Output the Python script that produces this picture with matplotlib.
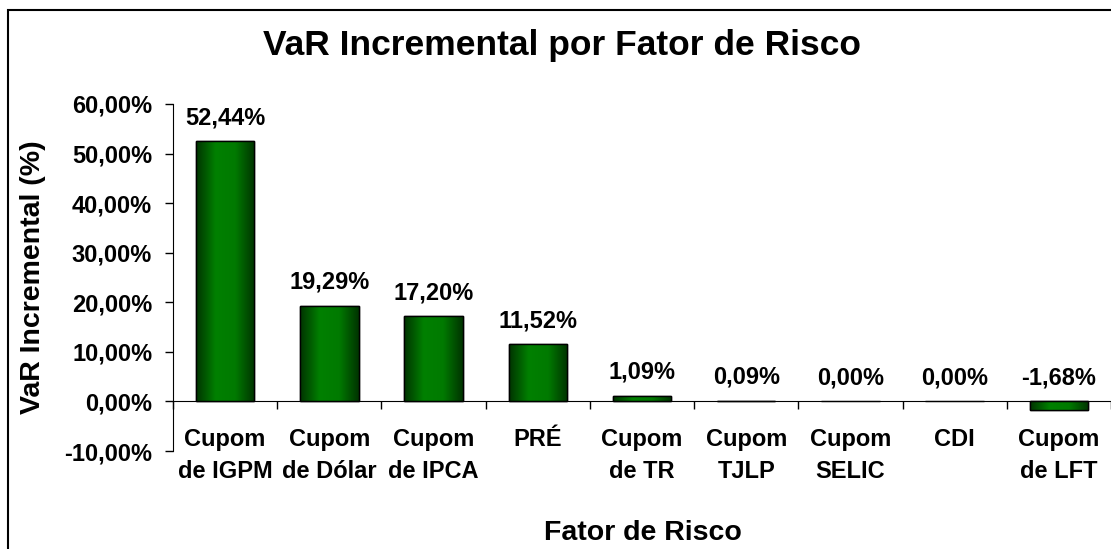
import numpy as np
import matplotlib.pyplot as plt
from matplotlib.colors import LinearSegmentedColormap
from matplotlib.patches import Rectangle

plt.rcParams['font.family'] = ['Liberation Sans', 'DejaVu Sans']
plt.rcParams['font.weight'] = 'bold'

# Data
categories = ["Cupom\nde IGPM", "Cupom\nde Dólar", "Cupom\nde IPCA", "PRÉ",
              "Cupom\nde TR", "Cupom\nTJLP", "Cupom\nSELIC", "CDI", "Cupom\nde LFT"]
values = [52.44, 19.29, 17.20, 11.52, 1.09, 0.09, 0.00, 0.00, -1.68]
yticks = [-10, 0, 10, 20, 30, 40, 50, 60]

fig = plt.figure(figsize=(11.11, 5.49), dpi=100)
ax = fig.add_axes([0.1557, 0.1785, 0.8443, 0.6321])

x = np.arange(len(categories))
bars = ax.bar(x, values, width=0.56, color="#006400", edgecolor="black", linewidth=1, zorder=2)

# horizontal cylinder-like gradient inside each bar
cmap = LinearSegmentedColormap.from_list("grn", ["#003300", "#008000", "#007a00", "#003300"])
grad = np.linspace(0, 1, 256).reshape(1, -1)
for b in bars:
    x0, w = b.get_x(), b.get_width()
    y0, h = b.get_y(), b.get_height()
    if h == 0:
        continue
    im = ax.imshow(grad, cmap=cmap, aspect="auto", extent=[x0, x0 + w, y0, y0 + h],
                   zorder=2.5, interpolation="bilinear")
    im.set_clip_path(b)
    ax.add_patch(Rectangle((x0, y0), w, h, fill=False, edgecolor="black", linewidth=1, zorder=3))

# value labels, formatted like the original (comma decimal)
for xi, v in zip(x, values):
    ax.annotate(f"{v:.2f}%".replace(".", ","), (xi, max(v, 0)), xytext=(0, 17),
                textcoords="offset points", ha="center", va="center", fontsize=17, fontweight="bold")

ax.set_xlim(-0.5, len(categories) - 0.5)
ax.set_ylim(-10, 60)
ax.set_yticks(yticks)
ax.set_yticklabels([f"{t:.2f}%".replace(".", ",") for t in yticks], fontsize=17, fontweight="bold")
ax.tick_params(axis="y", direction="out", length=6, width=1, pad=9)

# x axis sits at zero, ticks between categories
ax.spines["bottom"].set_position(("data", 0))
ax.spines["top"].set_visible(False)
ax.spines["right"].set_visible(False)
ax.set_xticks(np.arange(len(categories) + 1) - 0.5)
ax.set_xticklabels([])
ax.tick_params(axis="x", direction="out", length=6, width=1)
for xi, c in zip(x, categories):
    ax.text(xi, -5.3, c, ha="center", va="top", fontsize=17, fontweight="bold", linespacing=1.5)

fig.text(562 / 1111, 1 - 45 / 549, "VaR Incremental por Fator de Risco", ha="center", va="center",
         fontsize=25.5, fontweight="bold")
fig.text(33 / 1111, 1 - 277 / 549, "VaR Incremental (%)", ha="center", va="center", rotation=90,
         fontsize=20.5, fontweight="bold")
fig.text(643 / 1111, 1 - 533 / 549, "Fator de Risco", ha="center", va="center",
         fontsize=20.5, fontweight="bold")

# outer chart border (cut off at right and bottom in the original)
fig.add_artist(Rectangle((8 / 1111, -0.05), 1.1, 1 - 10 / 549 + 0.05, transform=fig.transFigure,
                         fill=False, edgecolor="black", linewidth=1.5, clip_on=False))

fig.savefig("out.png", dpi=100)
